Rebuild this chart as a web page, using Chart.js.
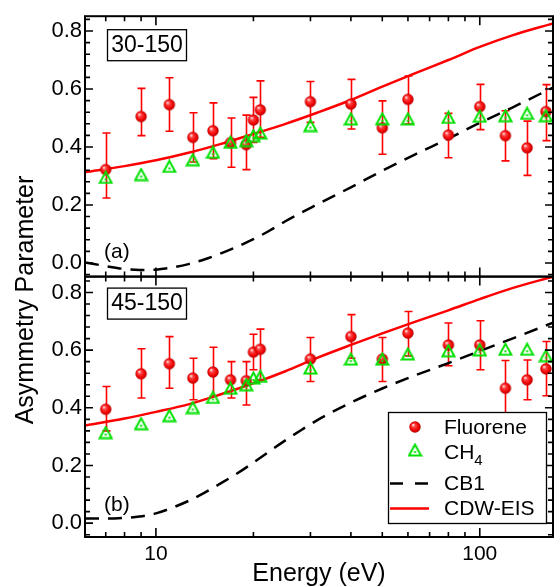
<!DOCTYPE html>
<html><head><meta charset="utf-8">
<script src="https://cdn.jsdelivr.net/npm/chart.js@4.4.1/dist/chart.umd.min.js"></script>
<style>html,body{margin:0;padding:0;background:#fff;}#wrap{position:relative;width:560px;height:587px;}</style>
</head><body><div id="wrap"><canvas id="c" width="560" height="587"></canvas></div>
<script>
// ---- data ----
const energies = [7,9,11,13,15,17,19,20,21,30,40,50,60,80,100,120,140,160];

const fluoreneTop   = [0.322,0.505,0.546,0.433,0.456,0.415,0.408,0.493,0.528,0.556,0.548,0.466,0.564,0.441,0.539,0.439,0.397,0.522];
const fluoreneTopHi = [0.448,0.602,0.639,0.518,0.552,0.500,0.510,0.571,0.628,0.626,0.633,0.559,0.645,0.516,0.616,0.525,0.489,0.615];
const fluoreneTopLo = [0.224,0.439,0.454,0.348,0.360,0.330,0.322,0.416,0.433,0.485,0.462,0.375,0.479,0.363,0.460,0.352,0.302,0.422];
const ch4Top        = [0.295,0.305,0.333,0.356,0.382,0.416,0.422,0.439,0.448,0.474,0.497,0.497,0.497,0.502,0.506,0.508,0.516,0.508];

const fluoreneBot   = [0.395,0.518,0.553,0.503,0.524,0.497,0.494,0.593,0.603,0.569,0.647,0.569,0.659,0.618,0.618,0.468,0.497,0.535];
const fluoreneBotHi = [0.474,0.605,0.647,0.572,0.610,0.560,0.560,0.655,0.673,0.644,0.723,0.644,0.734,0.694,0.702,0.564,0.566,0.630];
const fluoreneBotLo = [0.320,0.434,0.468,0.428,0.440,0.434,0.410,0.532,0.497,0.491,0.572,0.491,0.580,0.546,0.532,0.372,0.428,0.442];
const ch4Bot        = [0.314,0.345,0.373,0.401,0.436,0.468,0.480,0.503,0.509,0.538,0.569,0.569,0.587,0.598,0.601,0.603,0.603,0.581];

const cdwTopE = [6.04,8,10,12.6,15.8,20,25,31.6,40,50,63,80,100,126,168.3];
const cdwTop  = [0.313,0.334,0.354,0.380,0.410,0.445,0.479,0.519,0.562,0.608,0.654,0.700,0.745,0.785,0.826];
const cb1TopE = [6.04,7.1,7.9,8.9,10,11.2,12.6,14.1,15.8,17.8,20,22.4,25.1,31.6,40,50,63,80,100,126,168.3];
const cb1Top  = [0.002,-0.012,-0.020,-0.024,-0.023,-0.016,-0.004,0.012,0.032,0.056,0.082,0.111,0.144,0.203,0.261,0.318,0.374,0.429,0.483,0.536,0.605];

const cdwBotE = [6.04,8,10,12.6,15.8,20,25,31.6,40,50,63,80,100,126,168.3];
const cdwBot  = [0.339,0.363,0.386,0.412,0.446,0.485,0.526,0.574,0.618,0.658,0.698,0.738,0.777,0.815,0.855];
const cb1BotE = [6.04,7.1,7.9,8.9,10,11.2,12.6,14.1,15.8,17.8,20,22.4,25.1,28.2,31.6,40,50,63,80,100,126,168.3];
const cb1Bot  = [0.016,0.016,0.018,0.023,0.034,0.053,0.077,0.105,0.137,0.172,0.210,0.249,0.287,0.324,0.358,0.418,0.467,0.512,0.555,0.597,0.640,0.695];

const yTickValues = [0,0.2,0.4,0.6,0.8];
const yMinorValues = [-0.04,0.04,0.08,0.12,0.16,0.24,0.28,0.32,0.36,0.44,0.48,0.52,0.56,0.64,0.68,0.72,0.76,0.84];
const xTickValues = [10,100];
const xMinorValues = [7,8,9,20,30,40,50,60,70,80,90];
const panelLabels = ['(a)','(b)'];
const panelBoxes = ['30-150','45-150'];
const legendLabels = ['Fluorene','CH','CB1','CDW-EIS'];

// ---- styles ----
const FONT = '"Liberation Sans", Arial, Helvetica, sans-serif';
const RED = '#ff0000';
const GREEN = '#00e000';

function makeSphere(r){
  const s = Math.ceil(2*r+2); const c = document.createElement('canvas'); c.width = c.height = s;
  const g = c.getContext('2d'); const cx = s/2, cy = s/2;
  const grad = g.createRadialGradient(cx-r*0.35, cy-r*0.4, r*0.05, cx, cy, r);
  grad.addColorStop(0,'#ffe8e8'); grad.addColorStop(0.3,'#ff4040'); grad.addColorStop(0.75,'#ee0000'); grad.addColorStop(1,'#b00000');
  g.fillStyle = grad; g.beginPath(); g.arc(cx,cy,r,0,Math.PI*2); g.fill();
  return c;
}
function makeTri(){
  const c = document.createElement('canvas'); c.width = 15; c.height = 14;
  const g = c.getContext('2d');
  g.strokeStyle = GREEN; g.lineWidth = 2; g.lineJoin = 'miter';
  g.beginPath(); g.moveTo(7.5,1.5); g.lineTo(1.5,12.5); g.lineTo(13.5,12.5); g.closePath(); g.stroke();
  g.fillStyle = GREEN; g.fillRect(6.5,8,2,2);
  return c;
}
const sphereImg = makeSphere(5.7);
const triImg = makeTri();

const pts = (xs, ys) => xs.map((x,i)=>({x:x, y:ys[i]}));

function markerSet(label, ys, axis, img){
  return {label, data: pts(energies, ys), yAxisID: axis, showLine:false, pointStyle: img, pointRadius: 6, pointHoverRadius: 6};
}
function curveSet(label, xs, ys, axis, color, dash){
  return {label, data: pts(xs, ys), yAxisID: axis, showLine:true, borderColor: color, borderWidth: 2.5, borderDash: dash, pointRadius:0, cubicInterpolationMode:'monotone', fill:false};
}

const errSets = [
  {axis:'yA', hi: fluoreneTopHi, lo: fluoreneTopLo},
  {axis:'yB', hi: fluoreneBotHi, lo: fluoreneBotLo}
];

const decoPlugin = {
  id: 'deco',
  beforeDatasetsDraw(chart){
    const ctx = chart.ctx, x = chart.scales.x;
    ctx.save(); ctx.strokeStyle = RED; ctx.lineWidth = 1.6;
    errSets.forEach(es=>{
      const y = chart.scales[es.axis];
      energies.forEach((e,i)=>{
        const px = Math.round(x.getPixelForValue(e))+0.5, t = y.getPixelForValue(es.hi[i]), b = y.getPixelForValue(es.lo[i]);
        ctx.beginPath(); ctx.moveTo(px,t); ctx.lineTo(px,b);
        ctx.moveTo(px-4,t); ctx.lineTo(px+4,t); ctx.moveTo(px-4,b); ctx.lineTo(px+4,b); ctx.stroke();
      });
    });
    ctx.restore();
  },
  afterDatasetsDraw(chart){
    const ctx = chart.ctx, x = chart.scales.x;
    ctx.save(); ctx.strokeStyle = '#000'; ctx.lineWidth = 2;
    ['yA','yB'].forEach(ax=>{
      const y = chart.scales[ax];
      const L = x.left, R = x.right, T = y.top, B = y.bottom;
      ctx.strokeRect(L, T, R-L, B-T);
      const tick = (v, len, isY)=>{
        ctx.beginPath();
        if(isY){ const p = y.getPixelForValue(v); ctx.moveTo(L,p); ctx.lineTo(L+len,p); ctx.moveTo(R,p); ctx.lineTo(R-len,p); }
        else { const p = x.getPixelForValue(v); ctx.moveTo(p,T); ctx.lineTo(p,T+len); ctx.moveTo(p,B); ctx.lineTo(p,B-len); }
        ctx.stroke();
      };
      ctx.lineWidth = 1.6;
      yTickValues.forEach(v=>tick(v,8,true));
      yMinorValues.forEach(v=>tick(v,5,true));
      xTickValues.forEach(v=>tick(v,9,false));
      xMinorValues.forEach(v=>tick(v,5,false));
      ctx.lineWidth = 2;
    });
    ctx.restore();
  },
  afterDraw(chart){
    const ctx = chart.ctx;
    ctx.save();
    ctx.fillStyle = '#000'; ctx.strokeStyle = '#000';
    const yA = chart.scales.yA, yB = chart.scales.yB;
    ctx.font = '21px ' + FONT; ctx.textBaseline = 'middle'; ctx.textAlign = 'left';
    ctx.fillText(panelLabels[0], 104, yA.top + 236);
    ctx.fillText(panelLabels[1], 104, yB.top + 229);
    ctx.lineWidth = 1.3;
    [[yA, 13], [yB, 11]].forEach((p,i)=>{
      const top = p[0].top + p[1];
      ctx.fillStyle = '#fff'; ctx.fillRect(107, top, 80, 31); ctx.fillStyle = '#000';
      ctx.strokeRect(107.5, top+0.5, 79, 31);
      ctx.font = '23px ' + FONT; ctx.textAlign = 'center'; ctx.textBaseline = 'middle';
      ctx.fillText(panelBoxes[i], 147, top + 16.5);
    });
    // legend
    const lx = 388, ly = 412, lw = 158, lh = 111;
    ctx.fillStyle = '#fff'; ctx.fillRect(lx, ly, lw, lh);
    ctx.lineWidth = 1.3; ctx.strokeStyle = '#000'; ctx.strokeRect(lx+0.5, ly+0.5, lw, lh);
    ctx.drawImage(sphereImg, 415 - sphereImg.width/2, 427 - sphereImg.height/2);
    ctx.drawImage(triImg, 415 - triImg.width/2, 450 - triImg.height/2);
    ctx.lineWidth = 2.5; ctx.strokeStyle = '#000'; ctx.setLineDash([13,12]);
    ctx.beginPath(); ctx.moveTo(390,483.5); ctx.lineTo(429,483.5); ctx.stroke();
    ctx.setLineDash([]); ctx.strokeStyle = RED;
    ctx.beginPath(); ctx.moveTo(390,508.5); ctx.lineTo(429,508.5); ctx.stroke();
    ctx.fillStyle = '#000'; ctx.font = '21px ' + FONT; ctx.textAlign = 'left'; ctx.textBaseline = 'middle';
    ctx.fillText(legendLabels[0], 444, 428);
    ctx.fillText(legendLabels[1], 444, 453);
    const w = ctx.measureText(legendLabels[1]).width;
    ctx.font = '15px ' + FONT; ctx.fillText('4', 444 + w, 461);
    ctx.font = '21px ' + FONT;
    ctx.fillText(legendLabels[2], 444, 484);
    ctx.fillText(legendLabels[3], 444, 509);
    // y title
    ctx.translate(26, 300); ctx.rotate(-Math.PI/2);
    ctx.font = '25px ' + FONT; ctx.textAlign = 'center'; ctx.textBaseline = 'middle';
    ctx.fillText('Asymmetry Parameter', 0, 0);
    ctx.restore();
  }
};

function yAxis(min, max){
  return {
    type:'linear', position:'left', stack:'panels', stackWeight:1, min, max,
    grid:{display:false, drawTicks:false}, border:{display:false},
    afterBuildTicks: s => { s.ticks = yTickValues.map(v=>({value:v})); },
    afterFit: s => { s.width = 85; },
    ticks:{ color:'#000', font:{family:FONT, size:22}, padding:3, callback: v => Number(v).toFixed(1) }
  };
}

new Chart(document.getElementById('c').getContext('2d'), {
  type:'scatter',
  data:{ datasets:[
    markerSet('CH4 (30-150)', ch4Top, 'yA', triImg),
    markerSet('CH4 (45-150)', ch4Bot, 'yB', triImg),
    markerSet('Fluorene (30-150)', fluoreneTop, 'yA', sphereImg),
    markerSet('Fluorene (45-150)', fluoreneBot, 'yB', sphereImg),
    curveSet('CDW-EIS (30-150)', cdwTopE, cdwTop, 'yA', RED, []),
    curveSet('CDW-EIS (45-150)', cdwBotE, cdwBot, 'yB', RED, []),
    curveSet('CB1 (30-150)', cb1TopE, cb1Top, 'yA', '#000', [14,9]),
    curveSet('CB1 (45-150)', cb1BotE, cb1Bot, 'yB', '#000', [14,9])
  ]},
  options:{
    responsive:false, animation:false, devicePixelRatio:1,
    layout:{padding:{top:16, right:2, left:0, bottom:0}},
    plugins:{legend:{display:false}, tooltip:{enabled:false}},
    scales:{
      x:{
        type:'logarithmic', position:'bottom', min:6.04, max:168.3,
        grid:{display:false, drawTicks:false}, border:{display:false},
        afterBuildTicks: s => { s.ticks = xTickValues.map(v=>({value:v})); },
        afterFit: s => { s.height = 50; },
        ticks:{ color:'#000', font:{family:FONT, size:21}, padding:5, autoSkip:false, maxRotation:0, callback: v => String(v) },
        title:{ display:true, text:'Energy (eV)', color:'#000', font:{family:FONT, size:25, lineHeight:1}, padding:0 }
      },
      yB: yAxis(-0.048, 0.855),
      yA: yAxis(-0.047, 0.851)
    }
  },
  plugins:[decoPlugin]
});
</script>
</body></html>
